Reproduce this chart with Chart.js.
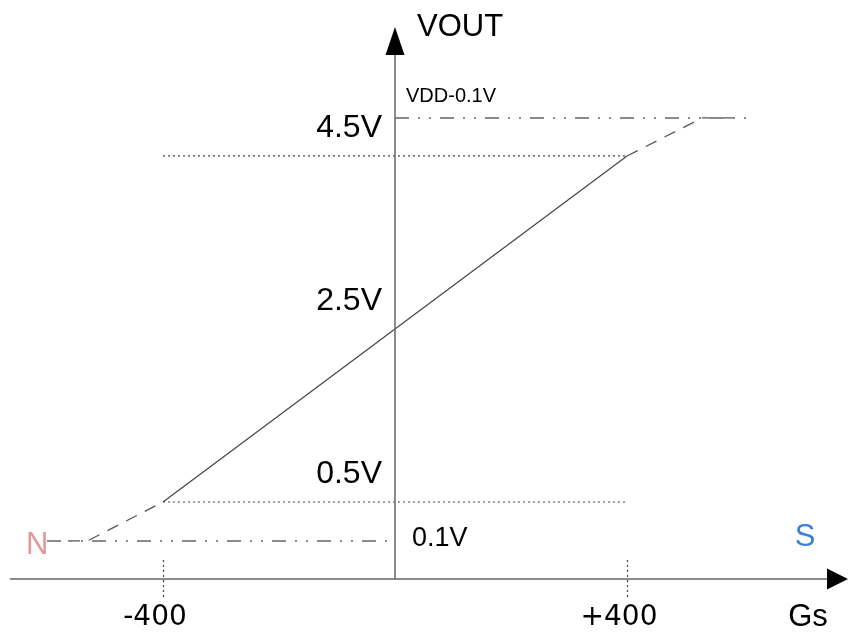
<!DOCTYPE html>
<html>
<head>
<meta charset="utf-8">
<script src="https://cdn.jsdelivr.net/npm/chart.js@4.4.1/dist/chart.umd.min.js"></script>
<style>
  html, body { margin: 0; padding: 0; background: #fff; }
  #wrap { width: 848px; height: 634px; }
</style>
</head>
<body>
<div id="wrap"><canvas id="chart" width="848" height="634"></canvas></div>
<script>
// Características de saída (Gs -> VOUT)
const linearX = [-400, 400];
const linearY = [0.5, 4.5];

const lowDashX = [-600, -530, -400];
const lowDashY = [0.05, 0.05, 0.5];
const highDashX = [400, 530, 600];
const highDashY = [4.5, 4.94, 4.94];

// linhas de referência traço-ponto (0.1V e VDD-0.1V)
const lowRailX = [-600, 0];
const lowRailY = [0.05, 0.05];
const highRailX = [0, 615];
const highRailY = [4.94, 4.94];

// linhas pontilhadas 0.5V / 4.5V e marcas de ±400
const guideX = [-400, 400];
const guideLevels = [0.5, 4.5];
const xTickValues = [-400, 400];
const xTickLabels = ['-400', '+400'];
const yTickValues = [0.5, 2.5, 4.5];
const yTickLabels = ['0.5V', '2.5V', '4.5V'];
const railLabels = ['0.1V', 'VDD-0.1V'];
const axisTitles = ['Gs', 'VOUT'];
const poleLabels = ['N', 'S'];

const toPts = (xs, ys) => xs.map((x, i) => ({ x: x, y: ys[i] }));

const FONT = '"Liberation Sans", Arial, sans-serif';
const X_AXIS_LEVEL = -0.39;

// desenha eixos, setas e textos
const diagramPlugin = {
    id: 'diagram',
    afterDatasetsDraw(chart) {
        const ctx = chart.ctx;
        const sx = chart.scales.x, sy = chart.scales.y;
        const x0 = sx.getPixelForValue(0);
        const yAxis = sy.getPixelForValue(X_AXIS_LEVEL);
        const xRight = sx.getPixelForValue(781);
        const xLeft = sx.getPixelForValue(-664);
        const yTop = sy.getPixelForValue(5.99);

        ctx.save();
        // eixos
        ctx.strokeStyle = '#666';
        ctx.lineWidth = 1.5;
        ctx.beginPath();
        ctx.moveTo(xLeft, yAxis);
        ctx.lineTo(xRight - 18, yAxis);
        ctx.moveTo(x0, yAxis);
        ctx.lineTo(x0, yTop + 26);
        ctx.stroke();

        ctx.fillStyle = '#000';
        ctx.beginPath();
        ctx.moveTo(xRight, yAxis);
        ctx.lineTo(xRight - 21, yAxis - 10.5);
        ctx.lineTo(xRight - 21, yAxis + 10.5);
        ctx.closePath();
        ctx.fill();
        ctx.beginPath();
        ctx.moveTo(x0, yTop);
        ctx.lineTo(x0 - 9.5, yTop + 28);
        ctx.lineTo(x0 + 9.5, yTop + 28);
        ctx.closePath();
        ctx.fill();

        // marcas pontilhadas em ±400
        ctx.strokeStyle = '#444';
        ctx.lineWidth = 1.2;
        ctx.setLineDash([2, 3]);
        xTickValues.forEach(v => {
            const px = Math.round(sx.getPixelForValue(v)) + 0.5;
            ctx.beginPath();
            ctx.moveTo(px, yAxis - 19);
            ctx.lineTo(px, yAxis + 19);
            ctx.stroke();
        });
        ctx.setLineDash([]);

        // textos
        ctx.fillStyle = '#000';
        ctx.textBaseline = 'middle';
        ctx.font = '32px ' + FONT;
        ctx.textAlign = 'right';
        yTickValues.forEach((v, i) => {
            ctx.fillText(yTickLabels[i], x0 - 13, sy.getPixelForValue(v) - 28);
        });

        ctx.textAlign = 'left';
        ctx.font = '27px ' + FONT;
        ctx.fillText(railLabels[0], x0 + 17, sy.getPixelForValue(lowRailY[0]) - 2);
        ctx.font = '20px ' + FONT;
        ctx.fillText(railLabels[1], x0 + 11, sy.getPixelForValue(highRailY[0]) - 21);

        ctx.font = '31px ' + FONT;
        ctx.fillText(axisTitles[1], x0 + 22, yTop);
        ctx.textAlign = 'center';
        ctx.fillText(axisTitles[0], xRight - 40, yAxis + 38);

        ctx.font = '28px "DejaVu Sans", sans-serif';
        xTickValues.forEach((v, i) => {
            ctx.fillText(xTickLabels[i], sx.getPixelForValue(v) - 8, yAxis + 39);
        });

        ctx.font = '31px ' + FONT;
        ctx.fillStyle = '#e09a98';
        ctx.fillText(poleLabels[0], sx.getPixelForValue(-617), sy.getPixelForValue(lowRailY[0]) + 5);
        ctx.fillStyle = '#3b7fd9';
        ctx.fillText(poleLabels[1], sx.getPixelForValue(707), sy.getPixelForValue(lowRailY[0]) - 3);
        ctx.restore();
    }
};

const railStyle = {
    borderColor: '#8a8a8a',
    borderWidth: 2,
    borderDash: [14, 9, 2, 9, 2, 9],
    pointRadius: 0,
    showLine: true
};
const dashStyle = {
    borderColor: '#555',
    borderWidth: 1.3,
    borderDash: [12, 9],
    pointRadius: 0,
    showLine: true
};
const dotStyle = {
    borderColor: '#444',
    borderWidth: 1.2,
    borderDash: [2, 3],
    pointRadius: 0,
    showLine: true
};

new Chart(document.getElementById('chart').getContext('2d'), {
    type: 'scatter',
    data: {
        datasets: [
            Object.assign({ label: 'low rail', data: toPts(lowRailX, lowRailY) }, railStyle),
            Object.assign({ label: 'high rail', data: toPts(highRailX, highRailY) }, railStyle),
            Object.assign({ label: 'guide 0.5V', data: toPts(guideX, [guideLevels[0], guideLevels[0]]) }, dotStyle),
            Object.assign({ label: 'guide 4.5V', data: toPts(guideX, [guideLevels[1], guideLevels[1]]) }, dotStyle),
            Object.assign({ label: 'low sat', data: toPts(lowDashX, lowDashY) }, dashStyle),
            Object.assign({ label: 'high sat', data: toPts(highDashX, highDashY) }, dashStyle),
            {
                label: 'VOUT',
                data: toPts(linearX, linearY),
                borderColor: '#444',
                borderWidth: 1.2,
                pointRadius: 0,
                showLine: true
            }
        ]
    },
    options: {
        responsive: false,
        devicePixelRatio: 1,
        animation: false,
        layout: { padding: 0 },
        plugins: {
            legend: { display: false },
            tooltip: { enabled: false }
        },
        scales: {
            x: { type: 'linear', min: -681, max: 781, display: false },
            y: { type: 'linear', min: -1.026, max: 6.303, display: false }
        }
    },
    plugins: [diagramPlugin]
});
</script>
</body>
</html>
